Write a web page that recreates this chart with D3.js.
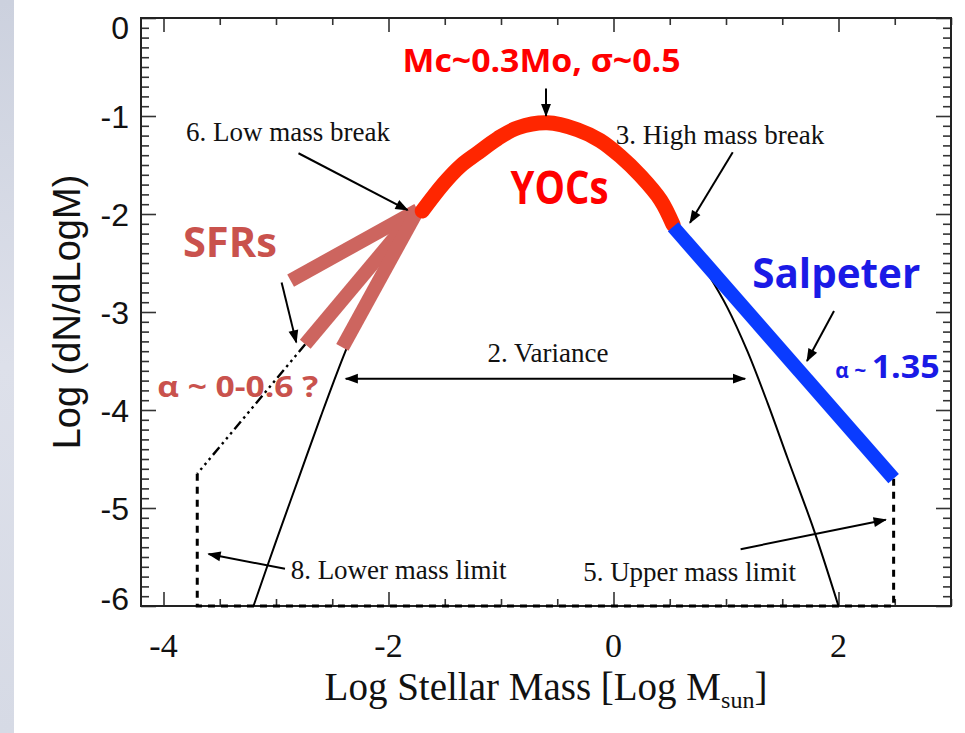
<!DOCTYPE html>
<html>
<head>
<meta charset="utf-8">
<script src="https://cdn.jsdelivr.net/npm/d3@7"></script>
<style>
  html, body { margin: 0; padding: 0; background: #ffffff; }
  svg { display: block; }
</style>
</head>
<body>
<script>
// ---- axis ticks ----
const xMajorTicks = [-4, -2, 0, 2];
const yMajorTicks = [0, -1, -2, -3, -4, -5, -6];

// ---- lognormal IMF (black) ----
const imfX = [-3.20, -3.00, -2.80, -2.60, -2.40, -2.20, -2.00, -1.80, -1.60, -1.40, -1.20, -1.00, -0.80, -0.58, -0.35, -0.15, 0.05, 0.25, 0.45, 0.65, 0.84, 1.01, 1.19, 1.37, 1.55, 1.78, 2.00];
const imfY = [-6.00, -5.34, -4.70, -4.06, -3.45, -2.90, -2.42, -2.04, -1.80, -1.57, -1.38, -1.23, -1.12, -1.08, -1.14, -1.24, -1.41, -1.63, -1.90, -2.27, -2.61, -2.95, -3.40, -3.93, -4.50, -5.22, -6.00];

// ---- young open clusters (red) ----
const yocX = [-1.70, -1.51, -1.36, -1.21, -1.03, -0.85, -0.59, -0.32, -0.12, 0.06, 0.24, 0.42, 0.53];
const yocY = [-1.97, -1.69, -1.51, -1.38, -1.23, -1.12, -1.07, -1.14, -1.25, -1.41, -1.61, -1.86, -2.11];

// ---- Salpeter slope (blue) ----
const salpeterX = [0.53, 2.49];
const salpeterY = [-2.13, -4.70];

// ---- star forming regions: three slopes from the low-mass break ----
const sfrStart = [-1.74, -1.96];
const sfrEndX = [-2.87, -2.74, -2.41];
const sfrEndY = [-2.68, -3.33, -3.36];

// ---- mass limits ----
const lowerLimit = -3.70;
const upperLimit = 2.49;
const extensionX = [-2.74, -3.70];
const extensionY = [-3.33, -4.65];
const floorY = -6;

// ---- annotations (serif) ----
const noteText = ["6. Low mass break", "3. High mass break", "2. Variance", "8. Lower mass limit", "5. Upper mass limit"];
const noteX = [-3.80, 0.02, -1.12, -2.87, -0.27];
const noteY = [-1.26, -1.29, -3.51, -5.72, -5.74];

// ---- arrows: [x0, y0, x1, y1] in data units ----
const arrowMc = [-0.60, -0.72, -0.60, -1.00];
const arrowLow = [-2.80, -1.38, -1.83, -1.96];
const arrowHigh = [1.06, -1.37, 0.68, -2.09];
const arrowSFR = [-2.95, -2.70, -2.82, -3.31];
const arrowSalp = [1.96, -2.99, 1.72, -3.50];
const arrowLowLim = [-2.92, -5.62, -3.60, -5.47];
const arrowUpLim = [1.13, -5.42, 2.42, -5.12];
const arrowVariance = [-2.38, -3.68, 1.17, -3.68];

const W = 965, H = 733;
const svg = d3.select("body").append("svg").attr("width", W).attr("height", H);

// slide backdrop strip on the left edge
const defs = svg.append("defs");
const grad = defs.append("linearGradient").attr("id", "strip").attr("x1", 0).attr("y1", 0).attr("x2", 0).attr("y2", 1);
grad.append("stop").attr("offset", "0%").attr("stop-color", "#ccd1de");
grad.append("stop").attr("offset", "50%").attr("stop-color", "#dde0ea");
grad.append("stop").attr("offset", "100%").attr("stop-color", "#d6dae5");
svg.append("rect").attr("x", 0).attr("y", 0).attr("width", 14).attr("height", H).attr("fill", "url(#strip)");

// arrow head
defs.append("marker")
  .attr("id", "head").attr("viewBox", "0 0 12 10")
  .attr("refX", 11).attr("refY", 5)
  .attr("markerUnits", "userSpaceOnUse")
  .attr("markerWidth", 14).attr("markerHeight", 11)
  .attr("orient", "auto-start-reverse")
  .append("path").attr("d", "M0,0.5 L12,5 L0,9.5 Z").attr("fill", "#000");

const x = d3.scaleLinear().domain([-4.2, 3.0]).range([141, 951]);
const y = d3.scaleLinear().domain([-6, 0]).range([606, 18]);

// ---- frame and ticks ----
const xMinor = d3.range(-4, 3.001, 0.5).filter(v => !xMajorTicks.includes(v));
const yMinor = d3.range(-6, 0.0001, 0.1).map(v => Math.round(v * 10) / 10).filter(v => !yMajorTicks.includes(v));

function tickLayer(axisFn, scale, values, size, transform) {
  const g = svg.append("g").attr("transform", transform)
    .call(axisFn(scale).tickValues(values).tickSize(-size).tickFormat(""));
  g.select(".domain").remove();
  g.selectAll("line").attr("stroke", "#333").attr("stroke-width", 1.6);
}
tickLayer(d3.axisLeft, y, yMajorTicks, 15, `translate(${x(-4.2)},0)`);
tickLayer(d3.axisLeft, y, yMinor, 8, `translate(${x(-4.2)},0)`);
tickLayer(d3.axisRight, y, yMajorTicks, 15, `translate(${x(3)},0)`);
tickLayer(d3.axisRight, y, yMinor, 8, `translate(${x(3)},0)`);
tickLayer(d3.axisBottom, x, xMajorTicks, 14, `translate(0,${y(-6)})`);
tickLayer(d3.axisBottom, x, xMinor, 7, `translate(0,${y(-6)})`);
tickLayer(d3.axisTop, x, xMajorTicks, 14, `translate(0,${y(0)})`);
tickLayer(d3.axisTop, x, xMinor, 7, `translate(0,${y(0)})`);

svg.append("rect")
  .attr("x", x(-4.2)).attr("y", y(0))
  .attr("width", x(3) - x(-4.2)).attr("height", y(-6) - y(0))
  .attr("fill", "none").attr("stroke", "#222").attr("stroke-width", 2);

// tick labels (end labels kept inside the frame height)
svg.append("g").selectAll("text").data(yMajorTicks).join("text")
  .attr("x", 129).attr("y", d => Math.min(598, Math.max(27, y(d)))).attr("dy", "0.36em")
  .attr("text-anchor", "end")
  .attr("font-family", "'Liberation Sans', Arial, sans-serif").attr("font-size", 32)
  .attr("fill", "#111")
  .text(d => String(d));

svg.append("g").selectAll("text").data(xMajorTicks).join("text")
  .attr("x", d => x(d)).attr("y", 657)
  .attr("text-anchor", "middle")
  .attr("font-family", "'Liberation Serif', 'Times New Roman', serif").attr("font-size", 34)
  .attr("fill", "#111")
  .text(d => String(d));

// axis titles
const xt = svg.append("text")
  .attr("x", (x(-4.2) + x(3)) / 2).attr("y", 700)
  .attr("text-anchor", "middle")
  .attr("font-family", "'Liberation Serif', 'Times New Roman', serif").attr("font-size", 39)
  .attr("fill", "#111");
xt.append("tspan").text("Log Stellar Mass [Log M");
xt.append("tspan").attr("font-size", 24).attr("dy", 8).text("sun");
xt.append("tspan").attr("dy", -8).text("]");

svg.append("text")
  .attr("transform", `translate(80,${(y(0) + y(-6)) / 2}) rotate(-90)`)
  .attr("text-anchor", "middle")
  .attr("font-family", "'Liberation Sans', Arial, sans-serif").attr("font-size", 38)
  .attr("fill", "#111")
  .text("Log (dN/dLogM)");

// ---- curves ----
const plot = svg.append("g");
const line = d3.line().x(d => x(d[0])).y(d => y(d[1]));
const smooth = d3.line().x(d => x(d[0])).y(d => y(d[1])).curve(d3.curveCatmullRom.alpha(0.5));

plot.append("path")
  .attr("d", smooth(d3.zip(imfX, imfY)))
  .attr("fill", "none").attr("stroke", "#000").attr("stroke-width", 2);

// limits and low-mass extension
plot.append("path")
  .attr("d", line([[lowerLimit, extensionY[1]], [lowerLimit, floorY], [upperLimit, floorY], [upperLimit, salpeterY[1]]]))
  .attr("fill", "none").attr("stroke", "#000").attr("stroke-width", 3)
  .attr("stroke-dasharray", "7,6");
plot.append("path")
  .attr("d", line(d3.zip(extensionX, extensionY)))
  .attr("fill", "none").attr("stroke", "#000").attr("stroke-width", 2.4)
  .attr("stroke-dasharray", "10,4,2.5,4,2.5,4,2.5,4");

// star forming regions
plot.append("g").selectAll("line").data(d3.zip(sfrEndX, sfrEndY)).join("line")
  .attr("x1", x(sfrStart[0])).attr("y1", y(sfrStart[1]))
  .attr("x2", d => x(d[0])).attr("y2", d => y(d[1]))
  .attr("stroke", "#cd655f").attr("stroke-width", 14).attr("stroke-linecap", "butt");

// young open clusters
plot.append("path")
  .attr("d", smooth(d3.zip(yocX, yocY)))
  .attr("fill", "none").attr("stroke", "#ff2600").attr("stroke-width", 15)
  .attr("stroke-linecap", "round").attr("stroke-linejoin", "round");

// Salpeter
plot.append("path")
  .attr("d", line(d3.zip(salpeterX, salpeterY)))
  .attr("fill", "none").attr("stroke", "#0a3bff").attr("stroke-width", 14)
  .attr("stroke-linecap", "butt");

// ---- arrows ----
const arrows = [arrowMc, arrowLow, arrowHigh, arrowSFR, arrowSalp, arrowLowLim, arrowUpLim];
svg.append("g").selectAll("line").data(arrows).join("line")
  .attr("x1", d => x(d[0])).attr("y1", d => y(d[1]))
  .attr("x2", d => x(d[2])).attr("y2", d => y(d[3]))
  .attr("stroke", "#000").attr("stroke-width", 2)
  .attr("marker-end", "url(#head)");
svg.append("line")
  .attr("x1", x(arrowVariance[0])).attr("y1", y(arrowVariance[1]))
  .attr("x2", x(arrowVariance[2])).attr("y2", y(arrowVariance[3]))
  .attr("stroke", "#000").attr("stroke-width", 2)
  .attr("marker-start", "url(#head)").attr("marker-end", "url(#head)");

// ---- annotation text ----
svg.append("g").selectAll("text").data(d3.zip(noteText, noteX, noteY)).join("text")
  .attr("x", d => x(d[1])).attr("y", d => y(d[2]))
  .attr("font-family", "'Liberation Serif', 'Times New Roman', serif").attr("font-size", 27)
  .attr("fill", "#111")
  .text(d => d[0]);

// coloured labels
function label(txt, cx, by, size, color, len) {
  svg.append("text")
    .attr("x", x(cx)).attr("y", y(by))
    .attr("text-anchor", "middle")
    .attr("font-family", "'Open Sans', 'Noto Sans', sans-serif").attr("font-weight", 700)
    .attr("font-size", size).attr("fill", color)
    .attr("textLength", len).attr("lengthAdjust", "spacingAndGlyphs")
    .text(txt);
}
label("Mc~0.3Mo, σ~0.5", -0.64, -0.55, 33, "#ff0000", 278);
label("YOCs", -0.48, -1.90, 46, "#ff0000", 98);
label("SFRs", -3.41, -2.44, 42, "#c9524d", 94);
label("Salpeter", 1.98, -2.75, 42, "#1a1ae6", 168);
label("α ~ 0-0.6 ?", -3.34, -3.87, 28, "#c9524d", 161);

const alpha = svg.append("text")
  .attr("x", x(1.97)).attr("y", y(-3.67))
  .attr("font-family", "'Open Sans', 'Noto Sans', sans-serif").attr("font-weight", 700)
  .attr("fill", "#1a1ae6");
alpha.append("tspan").attr("font-size", 21).text("α ~ ");
alpha.append("tspan").attr("font-size", 32).attr("textLength", 68).attr("lengthAdjust", "spacingAndGlyphs").text("1.35");
</script>
</body>
</html>
